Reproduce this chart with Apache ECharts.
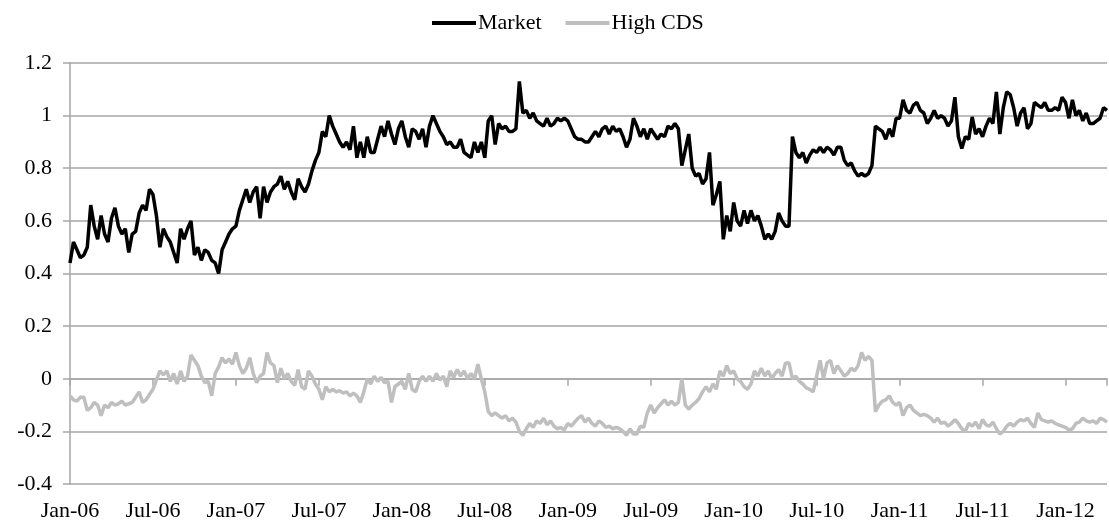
<!DOCTYPE html>
<html>
<head>
<meta charset="utf-8">
<script src="https://cdn.jsdelivr.net/npm/echarts@6/dist/echarts.min.js"></script>
<style>
  html, body { margin: 0; padding: 0; background: #fff; }
  #chart { width: 1109px; height: 528px; }
</style>
</head>
<body>
<div id="chart"></div>
<script>
// x positions are months since Jan-06, one reading every quarter month
var stepMonths = 0.25;
var tickLabels = ['Jan-06','Jul-06','Jan-07','Jul-07','Jan-08','Jul-08','Jan-09',
                  'Jul-09','Jan-10','Jul-10','Jan-11','Jul-11','Jan-12'];

var marketVals = [
  0.44,0.52,0.49,0.46, 0.47,0.50,0.66,0.58, 0.53,0.62,0.55,0.52, 0.61,0.65,0.58,0.55,
  0.57,0.48,0.55,0.56, 0.63,0.66,0.64,0.72, 0.70,0.62,0.50,0.57, 0.54,0.52,0.48,0.44,
  0.57,0.53,0.57,0.60, 0.47,0.50,0.45,0.49, 0.48,0.45,0.44,0.40, 0.49,0.52,0.55,0.57,
  0.58,0.64,0.68,0.72, 0.67,0.71,0.73,0.61, 0.73,0.67,0.71,0.73, 0.74,0.77,0.72,0.75,
  0.71,0.68,0.76,0.73, 0.71,0.74,0.79,0.83, 0.86,0.94,0.92,1.00, 0.96,0.93,0.90,0.88,
  0.90,0.87,0.96,0.84, 0.90,0.84,0.92,0.86, 0.86,0.91,0.96,0.92, 0.98,0.93,0.89,0.95,
  0.98,0.92,0.88,0.95, 0.94,0.91,0.95,0.88, 0.96,1.00,0.97,0.94, 0.92,0.89,0.90,0.88,
  0.88,0.91,0.86,0.85, 0.84,0.90,0.86,0.90, 0.84,0.98,1.00,0.89, 0.97,0.95,0.96,0.94,
  0.94,0.95,1.13,1.01, 1.02,0.99,1.01,0.98, 0.97,0.96,0.99,0.96, 0.97,0.99,0.98,0.99,
  0.98,0.95,0.92,0.91, 0.91,0.90,0.90,0.92, 0.94,0.92,0.95,0.96, 0.93,0.96,0.94,0.95,
  0.92,0.88,0.91,0.99, 0.96,0.92,0.95,0.91, 0.95,0.93,0.91,0.93, 0.92,0.96,0.95,0.97,
  0.95,0.81,0.87,0.93, 0.80,0.77,0.78,0.74, 0.76,0.86,0.66,0.70, 0.75,0.53,0.62,0.56,
  0.67,0.60,0.58,0.64, 0.59,0.64,0.60,0.62, 0.58,0.53,0.55,0.53, 0.56,0.63,0.60,0.58,
  0.58,0.92,0.86,0.84, 0.86,0.82,0.85,0.87, 0.86,0.88,0.86,0.88, 0.87,0.85,0.88,0.88,
  0.83,0.81,0.82,0.79, 0.77,0.78,0.77,0.78, 0.81,0.96,0.95,0.94, 0.91,0.95,0.92,0.99,
  0.99,1.06,1.02,1.01, 1.04,1.05,1.02,1.01, 0.97,0.99,1.02,0.99, 1.00,0.99,0.96,0.98,
  1.07,0.92,0.875,0.92, 0.91,0.995,0.93,0.95, 0.92,0.96,0.99,0.97, 1.09,0.93,1.03,1.09,
  1.08,1.03,0.96,1.01, 1.03,0.95,0.97,1.05, 1.04,1.03,1.05,1.02, 1.02,1.03,1.02,1.07,
  1.05,0.99,1.06,1.00, 1.02,0.98,1.01,0.97, 0.97,0.98,0.99,1.03, 1.02
];

var cdsVals = [
  -0.065,-0.08,-0.085,-0.07, -0.07,-0.12,-0.11,-0.09, -0.10,-0.14,-0.10,-0.11, -0.09,-0.10,-0.095,-0.085,
  -0.10,-0.095,-0.09,-0.07, -0.05,-0.09,-0.08,-0.06, -0.04,-0.005,0.03,0.015, 0.03,-0.01,0.02,-0.02,
  0.03,-0.01,0.01,0.09, 0.07,0.05,0.01,-0.015, -0.01,-0.065,0.02,0.045, 0.08,0.06,0.075,0.055,
  0.10,0.05,0.02,0.04, 0.08,0.02,-0.015,0.01, 0.02,0.10,0.06,0.05, -0.015,0.04,0.00,0.02,
  -0.01,-0.025,0.035,-0.03, -0.04,0.03,0.01,-0.02, -0.04,-0.08,-0.03,-0.05, -0.04,-0.05,-0.045,-0.055,
  -0.05,-0.065,-0.055,-0.065, -0.09,-0.05,0.00,-0.02, 0.01,-0.01,0.005,-0.015, -0.01,-0.09,-0.03,-0.02,
  -0.01,-0.04,0.02,-0.04, -0.05,-0.01,0.01,-0.01, 0.01,-0.01,0.02,-0.005, 0.01,-0.03,0.03,0.005,
  0.035,0.01,0.03,0.00, 0.02,0.00,0.055,0.00, -0.05,-0.125,-0.14,-0.13, -0.14,-0.15,-0.14,-0.16,
  -0.15,-0.165,-0.20,-0.215, -0.19,-0.17,-0.185,-0.16, -0.17,-0.15,-0.175,-0.16, -0.18,-0.19,-0.185,-0.195,
  -0.17,-0.18,-0.165,-0.15, -0.14,-0.165,-0.15,-0.17, -0.18,-0.16,-0.17,-0.185, -0.18,-0.19,-0.185,-0.19,
  -0.20,-0.215,-0.19,-0.21, -0.21,-0.18,-0.185,-0.13, -0.10,-0.13,-0.11,-0.095, -0.08,-0.10,-0.085,-0.10,
  -0.09,0.00,-0.10,-0.115, -0.10,-0.09,-0.075,-0.05, -0.03,-0.05,-0.02,-0.04, 0.03,0.01,0.05,0.02,
  0.03,0.00,-0.01,-0.03, -0.04,-0.02,0.03,0.01, 0.04,0.01,0.03,0.00, 0.02,0.035,0.01,0.06,
  0.06,0.00,0.01,-0.01, -0.02,-0.035,-0.04,-0.05, 0.01,0.07,0.00,0.06, 0.07,0.02,0.05,0.03,
  0.01,0.02,0.04,0.03, 0.05,0.10,0.07,0.085, 0.07,-0.125,-0.10,-0.085, -0.08,-0.065,-0.09,-0.10,
  -0.09,-0.14,-0.11,-0.10, -0.12,-0.13,-0.14,-0.135, -0.14,-0.15,-0.165,-0.15, -0.17,-0.165,-0.18,-0.17,
  -0.155,-0.17,-0.19,-0.20, -0.17,-0.18,-0.165,-0.19, -0.155,-0.175,-0.18,-0.165, -0.19,-0.21,-0.20,-0.18,
  -0.17,-0.18,-0.165,-0.155, -0.16,-0.15,-0.17,-0.185, -0.13,-0.155,-0.16,-0.165, -0.16,-0.17,-0.175,-0.18,
  -0.185,-0.195,-0.19,-0.17, -0.165,-0.15,-0.16,-0.165, -0.16,-0.17,-0.15,-0.155, -0.165
];

function toPairs(vals) {
    var out = [];
    for (var i = 0; i < vals.length; i++) {
        out.push([i * stepMonths, vals[i]]);
    }
    return out;
}

var chart = echarts.init(document.getElementById('chart'));
var serif = '"Liberation Serif", "Times New Roman", serif';
var gridGray = '#a6a6a6';

option = {
    animation: false,
    backgroundColor: '#fff',
    textStyle: { fontFamily: serif },
    legend: {
        left: 427,
        top: 7,
        icon: 'rect',
        itemWidth: 44,
        itemHeight: 4,
        itemGap: 24,
        textStyle: { fontFamily: serif, fontSize: 22, color: '#000', padding: [0, 0, 0, -3] },
        data: ['Market', 'High CDS']
    },
    grid: { left: 70, right: 2, top: 63, bottom: 44 },
    xAxis: [
        {
            type: 'value',
            min: 0,
            max: 75,
            interval: 6,
            position: 'bottom',
            axisLine: { show: false, onZero: false },
            axisTick: { show: false },
            splitLine: { show: false },
            axisLabel: {
                margin: 16,
                fontFamily: serif,
                fontSize: 22,
                color: '#000',
                showMaxLabel: false,
                formatter: function (v) {
                    return v % 6 === 0 ? (tickLabels[v / 6] || '') : '';
                }
            }
        },
        {
            // tick marks sitting on the zero line, like the original
            type: 'value',
            min: 0,
            max: 75,
            interval: 6,
            position: 'top',
            axisLine: { show: true, onZero: true, onZeroAxisIndex: 0, lineStyle: { color: gridGray, width: 1.5 } },
            axisTick: { show: true, inside: true, length: 7, lineStyle: { color: gridGray, width: 1.5 } },
            axisLabel: { show: false },
            splitLine: { show: false }
        }
    ],
    yAxis: {
        type: 'value',
        min: -0.4,
        max: 1.2,
        interval: 0.2,
        axisLine: { show: true, onZero: false, lineStyle: { color: gridGray, width: 1.5 } },
        axisTick: { show: true, length: 7, lineStyle: { color: gridGray, width: 1.5 } },
        splitLine: { show: true, lineStyle: { color: gridGray, width: 1.5 } },
        axisLabel: {
            margin: 18,
            fontFamily: serif,
            fontSize: 22,
            color: '#000',
            formatter: function (v) {
                return String(Math.round(v * 10) / 10);
            }
        }
    },
    series: [
        {
            name: 'Market',
            type: 'line',
            showSymbol: false,
            symbol: 'none',
            color: '#000',
            lineStyle: { color: '#000', width: 3.5 },
            data: toPairs(marketVals)
        },
        {
            name: 'High CDS',
            type: 'line',
            showSymbol: false,
            symbol: 'none',
            color: '#bfbfbf',
            lineStyle: { color: '#bfbfbf', width: 3.5 },
            data: toPairs(cdsVals)
        }
    ]
};
chart.setOption(option);
</script>
</body>
</html>
